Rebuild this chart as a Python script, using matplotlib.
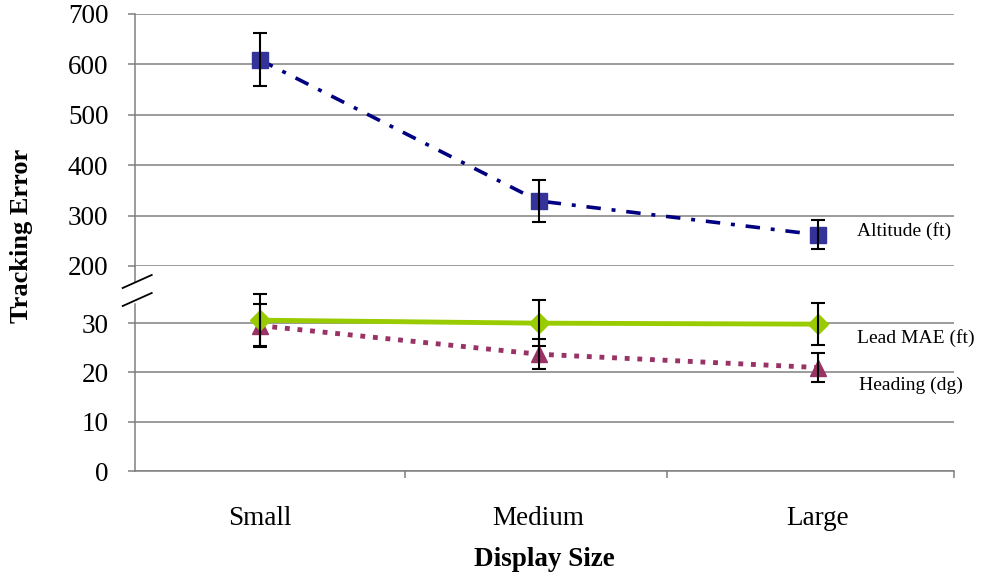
import matplotlib
matplotlib.use('Agg')
import matplotlib.pyplot as plt
from matplotlib.lines import Line2D

plt.rcParams['font.family'] = ['Liberation Serif', 'DejaVu Serif']

# values
sizes = ['Small', 'Medium', 'Large']
altitude = [609, 329, 262]
altitude_err = [53, 42, 29]
lead = [30.6, 30.0, 29.8]
lead_err = [5.3, 4.7, 4.3]
heading = [29.5, 23.7, 21.0]
heading_err = [4.4, 3.1, 3.0]

grid_col = '#808080'
x = list(range(len(sizes)))
xlim = (-0.448, 2.491)

fig = plt.figure(figsize=(9.84, 5.79), dpi=100)
ax_t = fig.add_axes([0.137, 0.5406, 0.833, 0.4354])
ax_b = fig.add_axes([0.137, 0.1865, 0.833, 0.3541])

for ax in (ax_t, ax_b):
    ax.set_xlim(*xlim)
    for s in ('top', 'right'):
        ax.spines[s].set_visible(False)
    ax.spines['left'].set_color(grid_col)
    ax.spines['left'].set_linewidth(1.1)
    ax.yaxis.grid(True, color=grid_col, linewidth=1.1)
    ax.set_axisbelow(True)
    ax.tick_params(axis='y', direction='out', length=5, width=1.1, color=grid_col,
                   labelsize=19.5, pad=14)
    ax.patch.set_alpha(0)

# upper part: altitude
ax_t.spines['bottom'].set_visible(False)
ax_t.set_ylim(200, 700)
ax_t.set_yticks([200, 300, 400, 500, 600, 700])
ax_t.set_xticks([])
ax_t.plot([0, 0], [168, 200], transform=ax_t.get_yaxis_transform(),
          color=grid_col, linewidth=1.1, clip_on=False)
ax_t.plot(x, altitude, color='#000080', linewidth=2.6, dashes=(4, 3, 1.1, 3),
          marker='s', markersize=11, markerfacecolor='#333399',
          markeredgecolor='#333399', zorder=3)
ax_t.errorbar(x, altitude, yerr=altitude_err, fmt='none', ecolor='black',
              elinewidth=1.5, capsize=5, capthick=1.5, zorder=4)

# lower part: lead and heading
ax_b.set_ylim(0, 41.6)
ax_b.set_yticks([0, 10, 20, 30])
ax_b.spines['left'].set_bounds(0, 33.9)
ax_b.spines['bottom'].set_color(grid_col)
ax_b.spines['bottom'].set_linewidth(1.1)
ax_b.set_xticks(x)
ax_b.set_xticklabels(sizes)
ax_b.set_xticks([0.52, 1.46, 2.49], minor=True)
ax_b.tick_params(axis='x', which='major', length=0, labelsize=19.5, pad=25)
ax_b.tick_params(axis='x', which='minor', direction='out', length=5, width=1.1,
                 color=grid_col)

ax_b.plot(x, heading, color='#993366', linewidth=3.5, dashes=(1, 1.6),
          dash_capstyle='butt', marker='^', markersize=11,
          markerfacecolor='#993366', markeredgecolor='#993366', zorder=3)
ax_b.plot(x, lead, color='#99cc00', linewidth=3.5, marker='D', markersize=10,
          markerfacecolor='#99cc00', markeredgecolor='#99cc00', zorder=3)
ax_b.errorbar(x, lead, yerr=lead_err, fmt='none', ecolor='black',
              elinewidth=1.5, capsize=5, capthick=1.5, zorder=4)
ax_b.errorbar(x, heading, yerr=heading_err, fmt='none', ecolor='black',
              elinewidth=1.5, capsize=5, capthick=1.5, zorder=4)

ax_b.set_xlabel('Display Size', fontsize=19.5, fontweight='bold', labelpad=12)

# axis break marks
W, H = 984, 579
for y0, y1 in [(288, 275), (306, 293)]:
    fig.add_artist(Line2D([122.7 / W, 151.7 / W], [1 - y0 / H, 1 - y1 / H],
                          color='black', linewidth=1.3))

fig.text(22 / W, 1 - 236 / H, 'Tracking Error', rotation=90, fontsize=19,
         fontweight='bold', ha='center', va='center')

fig.text(857 / W, 1 - 231 / H, 'Altitude (ft)', fontsize=14, va='center')
fig.text(857 / W, 1 - 338 / H, 'Lead MAE (ft)', fontsize=14, va='center')
fig.text(859 / W, 1 - 385 / H, 'Heading (dg)', fontsize=14, va='center')

fig.savefig('out.png', dpi=100)
